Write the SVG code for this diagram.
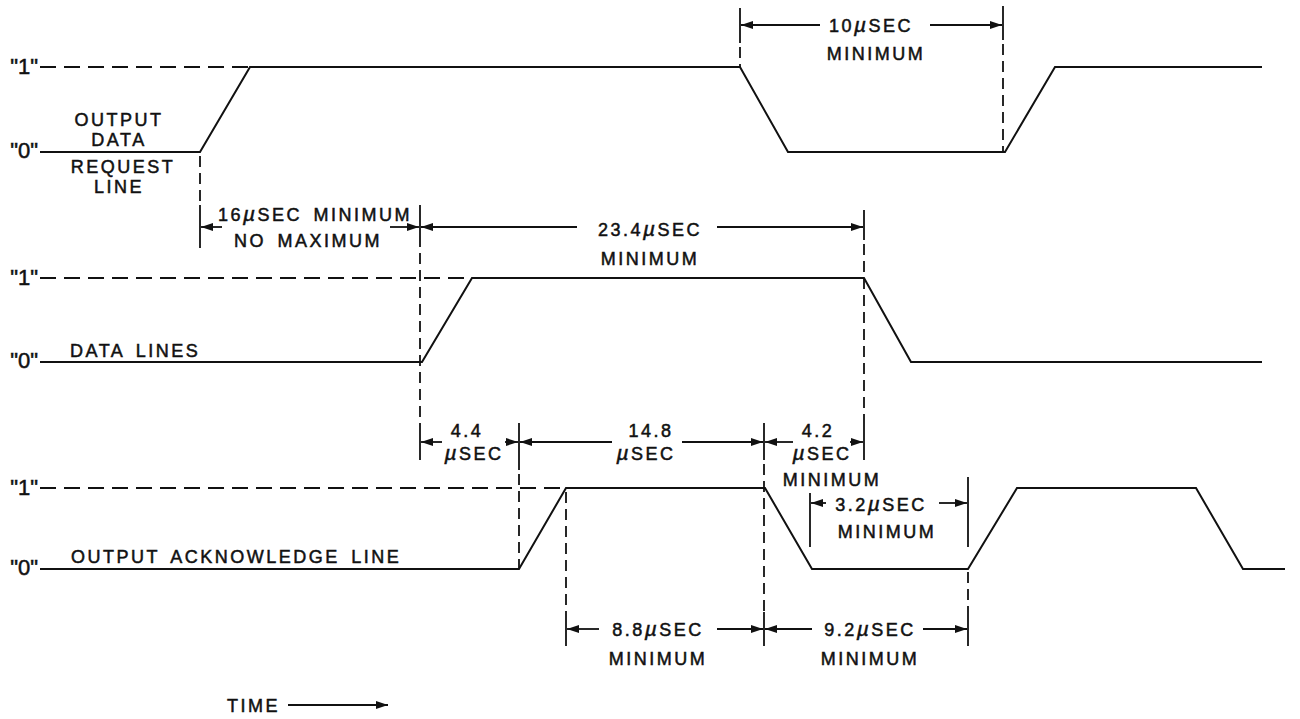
<svg xmlns="http://www.w3.org/2000/svg" width="1300" height="719" viewBox="0 0 1300 719">
<defs>
<marker id="ah" markerWidth="12" markerHeight="8" refX="12" refY="4" orient="auto" markerUnits="userSpaceOnUse"><path d="M0,0 L12,4 L0,8 z" fill="#111"/></marker>
</defs>
<style>
.wave{fill:none;stroke:#111;stroke-width:2;stroke-linejoin:miter}
.lvl{fill:none;stroke:#111;stroke-width:2;stroke-dasharray:16 8}
.vd{fill:none;stroke:#111;stroke-width:1.8;stroke-dasharray:11 6}
.tick{fill:none;stroke:#111;stroke-width:1.8}
.dim{fill:none;stroke:#111;stroke-width:1.8;marker-end:url(#ah)}
text{font-family:"Liberation Sans",Arial,sans-serif;font-size:18px;letter-spacing:2.5px;word-spacing:4px;fill:#111;stroke:#111;stroke-width:0.5px}
.lab{font-size:22px;letter-spacing:0px}
.mid{text-anchor:middle}
.mu{font-style:italic;font-size:21px}
</style>
<rect width="1300" height="719" fill="#fff"/>

<g id="row-output-data-request">
<text class="lab" x="38" y="74" text-anchor="end">"1"</text>
<text class="lab" x="38" y="158" text-anchor="end">"0"</text>
<line class="lvl" x1="40" y1="67" x2="250" y2="67"/>
<polyline class="wave" points="40,152 200,152 250,67 740,67 788,152 1005,152 1055,67 1262,67"/>
<text class="mid" x="119" y="126">OUTPUT</text>
<text class="mid" x="119" y="146">DATA</text>
<text class="mid" x="123" y="173">REQUEST</text>
<text class="mid" x="119" y="193">LINE</text>
</g>

<g id="row-data-lines">
<text class="lab" x="38" y="285" text-anchor="end">"1"</text>
<text class="lab" x="38" y="368" text-anchor="end">"0"</text>
<line class="lvl" x1="40" y1="278" x2="472" y2="278"/>
<polyline class="wave" points="40,362 422,362 472,278 864,278 911,362 1262,362"/>
<text x="70" y="357">DATA LINES</text>
</g>

<g id="row-output-acknowledge">
<text class="lab" x="38" y="495" text-anchor="end">"1"</text>
<text class="lab" x="38" y="575" text-anchor="end">"0"</text>
<line class="lvl" x1="40" y1="488" x2="566" y2="488"/>
<polyline class="wave" points="40,569 519,569 566,488 765,488 812,569 968,569 1017,488 1196,488 1243,569 1285,569"/>
<text x="71" y="563">OUTPUT ACKNOWLEDGE LINE</text>
</g>

<g id="connectors">
<line class="vd" x1="200" y1="156" x2="200" y2="205"/>
<line class="tick" x1="200" y1="205" x2="200" y2="248"/>
<line class="vd" x1="420" y1="236" x2="420" y2="423"/>
<line class="tick" x1="420" y1="205" x2="420" y2="236"/>
<line class="tick" x1="420" y1="423" x2="420" y2="460"/>
<line class="tick" x1="740" y1="8" x2="740" y2="43"/>
<line class="vd" x1="740" y1="47" x2="740" y2="67"/>
<line class="tick" x1="1003" y1="6" x2="1003" y2="40"/>
<line class="vd" x1="1003" y1="44" x2="1003" y2="152"/>
<line class="tick" x1="864" y1="210" x2="864" y2="240"/>
<line class="vd" x1="864" y1="244" x2="864" y2="423"/>
<line class="tick" x1="864" y1="423" x2="864" y2="460"/>
<line class="tick" x1="519" y1="423" x2="519" y2="470"/>
<line class="vd" x1="519" y1="474" x2="519" y2="569"/>
<line class="vd" x1="566" y1="492" x2="566" y2="612"/>
<line class="tick" x1="566" y1="612" x2="566" y2="646"/>
<line class="tick" x1="764" y1="423" x2="764" y2="460"/>
<line class="vd" x1="764" y1="464" x2="764" y2="612"/>
<line class="tick" x1="764" y1="612" x2="764" y2="646"/>
<line class="tick" x1="810" y1="493" x2="810" y2="547"/>
<line class="tick" x1="968" y1="477" x2="968" y2="547"/>
<line class="vd" x1="968" y1="572" x2="968" y2="612"/>
<line class="tick" x1="968" y1="612" x2="968" y2="646"/>
<line class="dim" x1="820" y1="25" x2="741" y2="25"/>
<line class="dim" x1="930" y1="25" x2="1002" y2="25"/>
<line class="dim" x1="222" y1="227" x2="201" y2="227"/>
<line class="dim" x1="390" y1="227" x2="419" y2="227"/>
<line class="dim" x1="577" y1="227" x2="421" y2="227"/>
<line class="dim" x1="717" y1="227" x2="863" y2="227"/>
<line class="dim" x1="442" y1="442" x2="421" y2="442"/>
<line class="dim" x1="505" y1="442" x2="518" y2="442"/>
<line class="dim" x1="612" y1="442" x2="520" y2="442"/>
<line class="dim" x1="682" y1="442" x2="763" y2="442"/>
<line class="dim" x1="793" y1="442" x2="765" y2="442"/>
<line class="dim" x1="850" y1="442" x2="863" y2="442"/>
<line class="dim" x1="826" y1="503" x2="811" y2="503"/>
<line class="dim" x1="939" y1="503" x2="967" y2="503"/>
<line class="dim" x1="599" y1="629" x2="567" y2="629"/>
<line class="dim" x1="717" y1="629" x2="763" y2="629"/>
<line class="dim" x1="812" y1="629" x2="765" y2="629"/>
<line class="dim" x1="923" y1="629" x2="967" y2="629"/>
<line class="dim" x1="288" y1="705" x2="388" y2="705"/>
</g>

<g id="labels">
<text class="mid" x="871" y="32">10<tspan class="mu">µ</tspan>SEC</text>
<text class="mid" x="876" y="60">MINIMUM</text>
<text class="mid" x="315" y="221">16<tspan class="mu">µ</tspan>SEC MINIMUM</text>
<text class="mid" x="308" y="247">NO MAXIMUM</text>
<text class="mid" x="650" y="236">23.4<tspan class="mu">µ</tspan>SEC</text>
<text class="mid" x="650" y="265">MINIMUM</text>
<text class="mid" x="467" y="437">4.4</text>
<text class="mid" x="474" y="460"><tspan class="mu">µ</tspan>SEC</text>
<text class="mid" x="651" y="437">14.8</text>
<text class="mid" x="646" y="460"><tspan class="mu">µ</tspan>SEC</text>
<text class="mid" x="818" y="437">4.2</text>
<text class="mid" x="822" y="460"><tspan class="mu">µ</tspan>SEC</text>
<text class="mid" x="832" y="486">MINIMUM</text>
<text class="mid" x="881" y="511">3.2<tspan class="mu">µ</tspan>SEC</text>
<text class="mid" x="887" y="538">MINIMUM</text>
<text class="mid" x="658" y="636">8.8<tspan class="mu">µ</tspan>SEC</text>
<text class="mid" x="658" y="665">MINIMUM</text>
<text class="mid" x="870" y="636">9.2<tspan class="mu">µ</tspan>SEC</text>
<text class="mid" x="870" y="665">MINIMUM</text>
<text x="227" y="712">TIME</text>
</g>
</svg>
